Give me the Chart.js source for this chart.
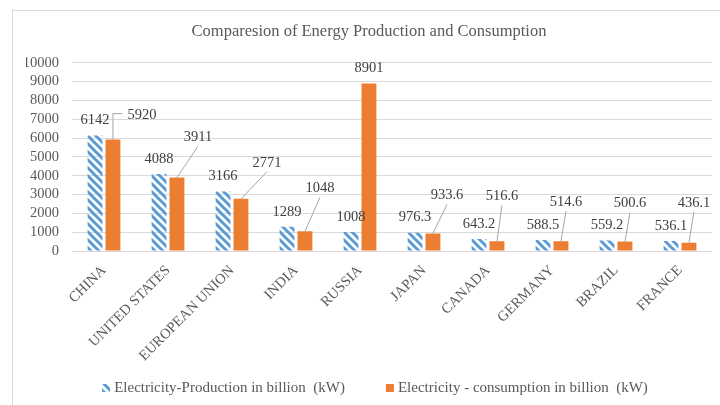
<!DOCTYPE html>
<html>
<head>
<meta charset="utf-8">
<script src="https://cdn.jsdelivr.net/npm/chart.js@4.4.1/dist/chart.umd.min.js"></script>
<style>
  html, body { margin: 0; padding: 0; background: #fff; }
  canvas { display: block; }
</style>
</head>
<body>
<canvas id="chart" width="720" height="405"></canvas>
<script>
// values
const countries = ['CHINA', 'UNITED STATES', 'EUROPEAN UNION', 'INDIA', 'RUSSIA',
  'JAPAN', 'CANADA', 'GERMANY', 'BRAZIL', 'FRANCE'];
const production = [6142, 4088, 3166, 1289, 1008, 976.3, 643.2, 588.5, 559.2, 536.1];
const consumption = [5920, 3911, 2771, 1048, 8901, 933.6, 516.6, 514.6, 500.6, 436.1];
const yTicks = [0, 1000, 2000, 3000, 4000, 5000, 6000, 7000, 8000, 9000, 10000];

// where the consumption labels sit, relative to the top of their bar (px)
const consLabelDx = [29, 21, 26, 15, 0, 14, 5, 5, 5, 5];
const consLabelDy = [-24, -40, -36, -43, -15, -38, -45, -39, -38, -40];
const consLeader = ['elbow', 'line', 'line', 'line', 'none', 'line', 'line', 'line', 'line', 'line'];

const BLUE = '#5B9BD5';
const ORANGE = '#ED7D31';
const GRID = '#D9D9D9';
const TEXT = '#595959';
const SERIF = '"Liberation Serif", "Times New Roman", serif';

// diagonal stripes for the production bars
function makeStripes() {
  const c = document.createElement('canvas');
  c.width = 8; c.height = 8;
  const g = c.getContext('2d');
  g.strokeStyle = BLUE;
  g.lineWidth = 3;
  g.beginPath();
  g.moveTo(-4, -4); g.lineTo(12, 12);
  g.moveTo(-4, 4); g.lineTo(4, 12);
  g.moveTo(4, -4); g.lineTo(12, 4);
  g.stroke();
  return document.getElementById('chart').getContext('2d').createPattern(c, 'repeat');
}
const stripes = makeStripes();

const framePlugin = {
  id: 'frame',
  beforeDraw(chart) {
    const ctx = chart.ctx;
    ctx.save();
    ctx.fillStyle = '#fff';
    ctx.fillRect(0, 0, chart.width, chart.height);
    ctx.strokeStyle = GRID;
    ctx.lineWidth = 1;
    ctx.strokeRect(12.5, 10.5, chart.width, chart.height);
    ctx.restore();
  }
};

const labelPlugin = {
  id: 'barLabels',
  afterDatasetsDraw(chart) {
    const ctx = chart.ctx;
    ctx.save();
    ctx.font = '14.5px ' + SERIF;
    ctx.fillStyle = '#404040';
    ctx.textAlign = 'center';
    ctx.textBaseline = 'middle';

    chart.getDatasetMeta(0).data.forEach((bar, i) => {
      ctx.fillText(String(production[i]), bar.x, bar.y - 15);
    });

    chart.getDatasetMeta(1).data.forEach((bar, i) => {
      const lx = bar.x + consLabelDx[i];
      const ly = bar.y + consLabelDy[i];
      const txt = String(consumption[i]);
      ctx.strokeStyle = '#A5A5A5';
      ctx.lineWidth = 1;
      if (consLeader[i] === 'elbow') {
        const w = ctx.measureText(txt).width;
        ctx.beginPath();
        ctx.moveTo(bar.x, bar.y);
        ctx.lineTo(bar.x, ly - 2);
        ctx.lineTo(lx - w / 2 - 5, ly - 2);
        ctx.stroke();
      } else if (consLeader[i] === 'line') {
        ctx.beginPath();
        ctx.moveTo(bar.x, bar.y);
        ctx.lineTo(lx, ly + 9);
        ctx.stroke();
      }
      ctx.fillText(txt, lx, ly);
    });
    ctx.restore();
  }
};

const legendPlugin = {
  id: 'bottomLegend',
  afterDraw(chart) {
    const ctx = chart.ctx;
    const fills = [stripes, ORANGE];
    const y = 388, box = 8, gap = 41;
    ctx.save();
    ctx.font = '15px ' + SERIF;
    ctx.textBaseline = 'middle';
    ctx.textAlign = 'left';
    const widths = chart.data.datasets.map(d => box + 4 + ctx.measureText(d.label).width);
    const total = widths.reduce((a, b) => a + b, 0) + gap * (widths.length - 1);
    let x = 375 - total / 2;
    chart.data.datasets.forEach((d, i) => {
      ctx.fillStyle = fills[i];
      ctx.fillRect(x, y - box / 2, box, box);
      ctx.fillStyle = TEXT;
      ctx.fillText(d.label, x + box + 4, y);
      x += widths[i] + gap;
    });
    ctx.restore();
  }
};

new Chart(document.getElementById('chart'), {
  type: 'bar',
  data: {
    labels: countries,
    datasets: [
      {
        label: 'Electricity-Production in billion  (kW)',
        data: production,
        backgroundColor: stripes,
        borderWidth: 0
      },
      {
        label: 'Electricity - consumption in billion  (kW)',
        data: consumption,
        backgroundColor: ORANGE,
        borderWidth: 0
      }
    ]
  },
  options: {
    responsive: false,
    animation: false,
    categoryPercentage: 0.56,
    barPercentage: 0.83,
    layout: { padding: { left: 26, right: 8, top: 12, bottom: 30 } },
    plugins: {
      legend: { display: false },
      tooltip: { enabled: false },
      title: {
        display: true,
        text: 'Comparesion of Energy Production and Consumption',
        color: TEXT,
        font: { family: SERIF, size: 16.5, weight: 'normal' },
        padding: { top: 10, bottom: 21 }
      }
    },
    scales: {
      x: {
        grid: { display: false, drawTicks: false },
        border: { display: false },
        ticks: {
          autoSkip: false,
          maxRotation: 45,
          minRotation: 45,
          padding: 11,
          color: TEXT,
          font: { family: SERIF, size: 14.5 }
        },
        afterFit(scale) { scale.height = 124; }
      },
      y: {
        min: 0,
        max: 10000,
        afterBuildTicks(scale) { scale.ticks = yTicks.map(v => ({ value: v })); },
        grid: { color: GRID, drawTicks: false },
        border: { display: false },
        ticks: {
          autoSkip: false,
          padding: 13,
          color: TEXT,
          font: { family: SERIF, size: 14.5 },
          callback: v => String(v)
        },
        afterFit(scale) { scale.width = 46; }
      }
    }
  },
  plugins: [framePlugin, labelPlugin, legendPlugin]
});
</script>
</body>
</html>
